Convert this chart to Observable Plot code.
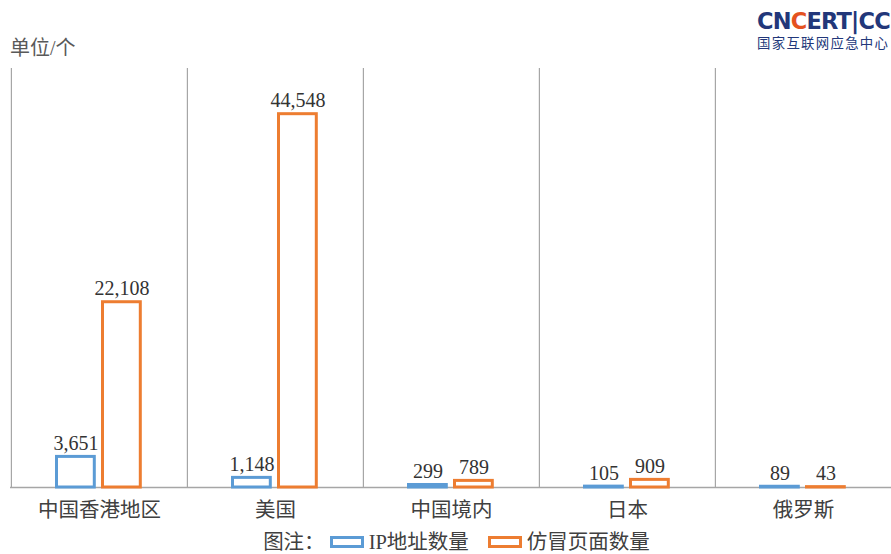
<!DOCTYPE html>
<html>
<head>
<meta charset="utf-8">
<script src="https://cdn.jsdelivr.net/npm/d3@7"></script>
<script src="https://cdn.jsdelivr.net/npm/@observablehq/plot@0.6"></script>
<style>
  html, body { margin: 0; padding: 0; background: #fff; }
  #wrap { position: relative; width: 891px; height: 554px; overflow: hidden;
          font-family: "Liberation Serif", "Noto Sans CJK SC", serif; color: #404040; }
  #unit { position: absolute; left: 10px; top: 35px; font-size: 20px; line-height: 26px; color: #595959; }
  #logo { position: absolute; left: 757px; top: 8px; width: 134px; color: #22377a; }
  #logo .mark { font-family: "DejaVu Sans", sans-serif; font-weight: bold; font-size: 22.5px;
                letter-spacing: -0.8px; line-height: 26px; white-space: nowrap; }
  #logo .mark .globe { color: #e4521f; }
  #logo .cn { font-family: "Noto Sans CJK SC", sans-serif; font-size: 13.4px; line-height: 16px;
              letter-spacing: 1.3px; white-space: nowrap; }
  #legend { position: absolute; left: 0; top: 529px; width: 891px; display: flex;
            justify-content: center; align-items: center; font-size: 20.5px; line-height: 26px;
            padding-left: 36px; box-sizing: border-box; color: #404040; }
  #legend .sw { display: inline-block; width: 28px; height: 6px; border: 3px solid; background: #fff;
                margin: 0 5px 0 5px; }
  #legend .item { display: flex; align-items: center; margin-right: 14px; }
</style>
</head>
<body>
<div id="wrap">
  <div id="chart"></div>
  <div id="unit">单位/个</div>
  <div id="logo">
    <div class="mark">CN<span class="globe">C</span>ERT|CC</div>
    <div class="cn">国家互联网应急中心</div>
  </div>
  <div id="legend"></div>
</div>
<script>
// Phishing-site hosting by country/region: IP addresses vs. counterfeit pages
const countries = ["中国香港地区", "美国", "中国境内", "日本", "俄罗斯"];
const ipCounts = [3651, 1148, 299, 105, 89];
const pageCounts = [22108, 44548, 789, 909, 43];
const seriesNames = ["IP地址数量", "仿冒页面数量"];
const seriesColors = ["#5b9bd5", "#ed7d31"];
const legendPrefix = "图注：";

const rows = countries.map((country, i) => ({country, ip: ipCounts[i], page: pageCounts[i]}));

const width = 891, marginLeft = 10, marginRight = 0;
const step = (width - marginLeft - marginRight) / countries.length;
const fmt = d3.format(",");
const gridColor = "#a6a6a6";

const chart = Plot.plot({
  width,
  height: 525,
  marginTop: 68,
  marginBottom: 38,
  marginLeft,
  marginRight,
  style: {fontSize: "20.5px", fontFamily: "'Liberation Serif', 'Noto Sans CJK SC', serif", color: "#404040", background: "#fff"},
  x: {domain: countries, padding: 0, tickSize: 0, tickPadding: 15, label: null},
  y: {domain: [0, 50000], axis: null},
  marks: [
    // category separators
    Plot.ruleX(countries, {x: d => d, dx: -step / 2, stroke: gridColor, strokeWidth: 1.2}),
    Plot.ruleY([0], {stroke: gridColor, strokeWidth: 1.5}),
    Plot.barY(rows, {x: "country", y: "ip", fill: "#fff", stroke: seriesColors[0], strokeWidth: 3,
                     insetLeft: 45.5, insetRight: step - 83.5}),
    Plot.barY(rows, {x: "country", y: "page", fill: "#fff", stroke: seriesColors[1], strokeWidth: 3,
                     insetLeft: 91.5, insetRight: step - 129.5}),
    Plot.text(rows, {x: "country", y: "ip", text: d => fmt(d.ip), dx: 64.5 - step / 2, dy: -7,
                     lineAnchor: "bottom", fill: "#333", fontSize: 20}),
    Plot.text(rows, {x: "country", y: "page", text: d => fmt(d.page), dx: 110.5 - step / 2, dy: -7,
                     lineAnchor: "bottom", fill: "#333", fontSize: 20})
  ]
});
document.getElementById("chart").appendChild(chart);

const legend = document.getElementById("legend");
const prefix = document.createElement("span");
prefix.textContent = legendPrefix;
legend.appendChild(prefix);
seriesNames.forEach((name, i) => {
  const item = document.createElement("span");
  item.className = "item";
  const sw = document.createElement("span");
  sw.className = "sw";
  sw.style.borderColor = seriesColors[i];
  const label = document.createElement("span");
  label.textContent = name;
  item.appendChild(sw);
  item.appendChild(label);
  legend.appendChild(item);
});
</script>
</body>
</html>
